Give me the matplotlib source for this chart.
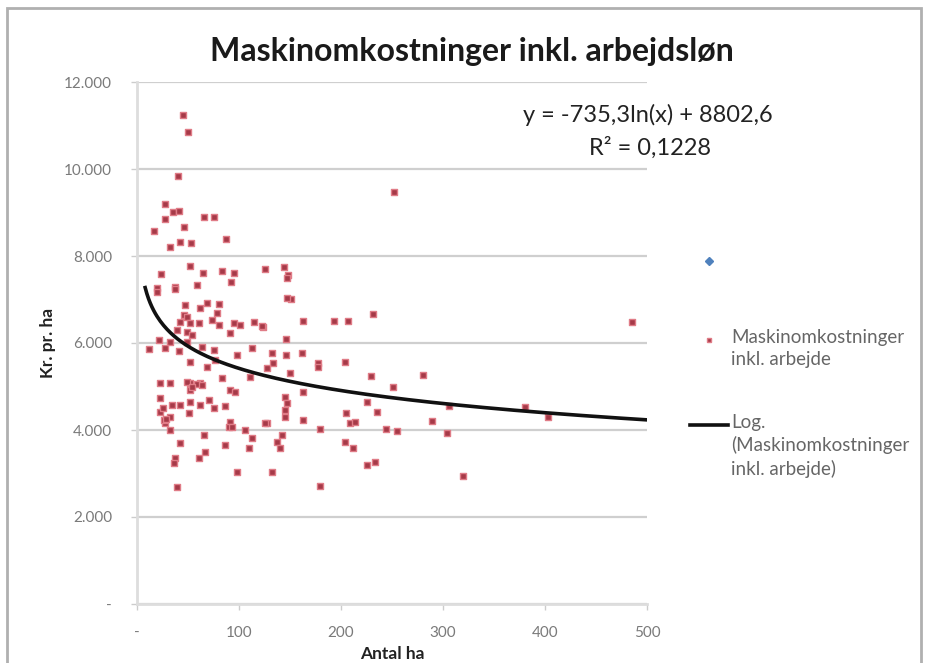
import matplotlib
matplotlib.use("Agg")
import matplotlib.pyplot as plt
import numpy as np
from matplotlib.lines import Line2D
from matplotlib.patches import Rectangle
from matplotlib.ticker import FuncFormatter

plt.rcParams['font.family'] = ['Lato', 'DejaVu Sans']

# ---- data ----
antal_ha = [45, 50, 40, 252,
            27, 35, 41, 27, 66, 75, 46, 17, 42, 53, 32, 87,
            52, 24, 65, 83, 95, 125, 59, 92, 37, 20,
            144, 148, 147, 151, 163, 193, 207, 231, 124, 146, 132, 146, 162, 177, 204, 133,
            485, 229, 280, 251, 225, 235, 205, 209, 306, 380, 403, 289, 244, 255, 304, 204, 212, 225, 233, 320,
            177, 150, 127, 163, 145, 147, 145, 145, 163, 214, 127, 179, 142, 137, 140, 132, 179,
            23, 32, 52, 62, 52, 91, 23, 34, 42, 52, 62, 71, 75, 86, 23, 51, 32, 27, 91, 90, 32, 66, 106, 113,
            42, 86, 110, 67, 61, 37, 36, 98, 39, 125, 25, 26,
            147,
            20, 37, 47, 69, 80, 62, 46, 49, 78, 42, 52, 61, 74, 80, 95, 101, 115, 123, 39, 49, 54, 91,
            22, 32, 49, 12, 27, 41, 64, 75, 113, 52, 76, 98, 69, 83, 111,
            49, 59, 64, 54, 96, 28, 93]
kr_pr_ha = [11250, 10850, 9850, 9470,
            9190, 9010, 9030, 8850, 8900, 8900, 8670, 8570, 8320, 8300, 8210, 8390,
            7770, 7590, 7610, 7650, 7610, 7700, 7330, 7400, 7290, 7260,
            7750, 7560, 7490, 7010, 6510, 6510, 6510, 6670, 6370, 6090, 5770, 5720, 5770, 5540, 5560, 5540,
            6480, 5240, 5260, 4990, 4650, 4410, 4390, 4160, 4550, 4530, 4300, 4210, 4020, 3980, 3930, 3720, 3590, 3200, 3260, 2940,
            5450, 5310, 5420, 4870, 4760, 4620, 4460, 4300, 4230, 4180, 4160, 4020, 3880, 3720, 3590, 3030, 2710,
            5080, 5080, 5080, 5080, 4920, 4920, 4740, 4570, 4570, 4640, 4570, 4690, 4500, 4550, 4410, 4390, 4300, 4160, 4180, 4070, 4000, 3880, 4000, 3820,
            3700, 3650, 3590, 3490, 3360, 3360, 3240, 3030, 2690, 4160, 4500, 4230,
            7030,
            7170, 7240, 6870, 6920, 6900, 6800, 6640, 6600, 6690, 6480, 6460, 6460, 6530, 6410, 6460, 6410, 6480, 6390, 6300, 6250, 6180, 6230,
            6070, 6020, 6020, 5860, 5880, 5820, 5910, 5840, 5880, 5560, 5610, 5720, 5450, 5200, 5220,
            5100, 5060, 5040, 4990, 4870, 4250, 4060]

# logarithmic trendline shown in the chart: y = a*ln(x) + b
trend_a = -735.3
trend_b = 8802.6
trend_xmin, trend_xmax = 8, 500

title = "Maskinomkostninger inkl. arbejdsløn"
series_label = "Maskinomkostninger\ninkl. arbejde"
trend_label = "Log.\n(Maskinomkostninger\ninkl. arbejde)"
eq_text = "y = -735,3ln(x) + 8802,6"
r2_text = "R² = 0,1228"
x_ticks = [0, 100, 200, 300, 400, 500]
y_ticks = [0, 2000, 4000, 6000, 8000, 10000, 12000]

W, H = 927, 663
fig = plt.figure(figsize=(W / 100, H / 100), dpi=100)
fig.patch.set_facecolor('white')

def fx(px):
    return px / W

def fy(py):
    return 1 - py / H

ax = fig.add_axes([fx(137), fy(604), fx(647) - fx(137), fy(82) - fy(604)])
ax.set_xlim(0, 500)
ax.set_ylim(0, 12000)

pt_face = '#a63a48'
pt_edge = '#e07c87'
ax.scatter(antal_ha, kr_pr_ha, marker='s', s=16, color=pt_face, edgecolors=pt_edge,
           linewidths=1.0, zorder=3)

xt = np.linspace(trend_xmin, trend_xmax, 300)
ax.plot(xt, trend_a * np.log(xt) + trend_b, color='#111111', lw=2.6, zorder=4)

ax.set_xticks(x_ticks)
ax.set_yticks(y_ticks)

def thousands(v, pos):
    if v == 0:
        return '-'
    return f"{int(v):,}".replace(',', '.')

ax.xaxis.set_major_formatter(FuncFormatter(thousands))
ax.yaxis.set_major_formatter(FuncFormatter(thousands))
ax.tick_params(axis='both', labelsize=11, colors='#cccccc', labelcolor='#7a7a7a',
               length=4, width=1)
ax.tick_params(axis='x', pad=12)
ax.tick_params(axis='y', pad=14)

ax.grid(axis='y', color='#cfcfcf', lw=1.6)
ax.set_axisbelow(True)
for s in ['top', 'right']:
    ax.spines[s].set_visible(False)
ax.spines['left'].set_color('#dddddd')
ax.spines['left'].set_linewidth(2)
ax.spines['bottom'].set_color('#dddddd')
ax.spines['bottom'].set_linewidth(2)

ax.set_ylabel("Kr. pr. ha", fontsize=12.5, fontweight='bold', color='#222222', labelpad=6)
ax.set_xlabel("Antal ha", fontsize=12.5, fontweight='bold', color='#222222', labelpad=4)

fig.text(fx(472), fy(52), title, ha='center', va='center', fontsize=23,
         fontweight='bold', color='#1a1a1a')
fig.text(fx(648), fy(115), eq_text, ha='center', va='center', fontsize=17, color='#222222')
fig.text(fx(650), fy(148), r2_text, ha='center', va='center', fontsize=17, color='#222222')

# legend (manual, right side)
fig.add_artist(Line2D([fx(709)], [fy(261)], marker='D', markersize=4, color='#4F81BD',
                      transform=fig.transFigure))
fig.add_artist(Line2D([fx(709)], [fy(340)], marker='s', markersize=3.5, color=pt_face,
                      markeredgecolor=pt_edge, transform=fig.transFigure))
fig.text(fx(731), fy(329), series_label, ha='left', va='top', fontsize=13.5,
         color='#666666', linespacing=1.35)
fig.add_artist(Line2D([fx(690), fx(728)], [fy(425), fy(425)], color='#111111', lw=2.6,
                      transform=fig.transFigure))
fig.text(fx(731), fy(414), trend_label, ha='left', va='top', fontsize=13.5,
         color='#666666', linespacing=1.35)

# outer chart border
fig.add_artist(Rectangle((fx(7), fy(690)), fx(914), fy(8) - fy(690), fill=False,
                         edgecolor='#b0b0b0', lw=2, transform=fig.transFigure))

fig.savefig("out.png", dpi=100, facecolor='white')
